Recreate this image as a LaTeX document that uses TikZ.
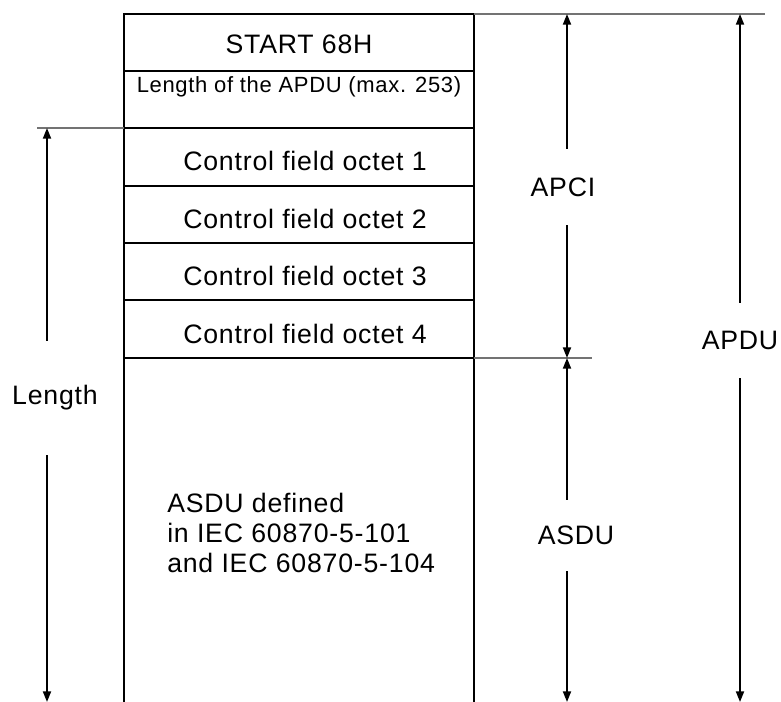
\documentclass[tikz,border=0pt]{standalone}
\usepackage{fontspec}
\setmainfont{Liberation Sans}[LetterSpace=3]
\usetikzlibrary{arrows.meta}

\tikzset{
  frame/.style={line width=1.5pt},
  ext/.style={line width=1pt, black!55},
  dim/.style={line width=1.4pt, -{Triangle[length=8pt,width=6pt]}},
  txt/.style={inner sep=0pt, font=\fontsize{20}{22.5}\selectfont},
  smalltxt/.style={inner sep=0pt, font=\fontsize{16.5}{18}\selectfont},
  dimlabel/.style={txt, minimum width=10pt}
}

\begin{document}
\begin{tikzpicture}[x=0.75pt,y=-0.75pt]
\useasboundingbox (0,0) rectangle (781,702);
% Frame
\draw[frame] (124,702) -- (124,14) -- (474,14) -- (474,702);
\foreach \y in {71,128,186,243,300,358}
  \draw[frame] (124,\y) -- (474,\y);
% Extension lines
\draw[ext] (474,14) -- (765,14);
\draw[ext] (37,128) -- (124,128);
\draw[ext] (474,358) -- (592,358);
% Nodes
\node[txt] (start) at (299,44) {START 68H};
\node[smalltxt] (apdulen) at (299,87) {Length of the APDU (max. 253)};
\node[txt] (octet1) at (305,161) {Control field octet 1};
\node[txt] (octet2) at (305,219) {Control field octet 2};
\node[txt] (octet3) at (305,276) {Control field octet 3};
\node[txt] (octet4) at (305,334) {Control field octet 4};
\node[txt, align=left, anchor=west] (asdutext) at (167,533)
  {ASDU defined\\in IEC 60870-5-101\\and IEC 60870-5-104};
% Labels
\node[dimlabel, minimum height=57pt] (apci) at (563,187) {APCI};
\node[dimlabel, minimum height=53.25pt] (asdu) at (576,535.5) {ASDU};
\node[dimlabel, minimum height=56.25pt] (apdu) at (740,340.5) {APDU};
\node[dimlabel, minimum height=85.5pt] (length) at (55,398) {Length};
% Arrow ends
\coordinate (apciTop) at (567,14);
\coordinate (apciBot) at (567,358);
\coordinate (asduTop) at (567,358);
\coordinate (asduBot) at (567,702);
\coordinate (apduTop) at (740,14);
\coordinate (apduBot) at (740,702);
\coordinate (lenTop) at (47,128);
\coordinate (lenBot) at (47,702);
% Edges
\draw[dim] (apci.north -| apciTop) -- (apciTop);
\draw[dim] (apci.south -| apciBot) -- (apciBot);
\draw[dim] (asdu.north -| asduTop) -- (asduTop);
\draw[dim] (asdu.south -| asduBot) -- (asduBot);
\draw[dim] (apdu.north) -- (apduTop);
\draw[dim] (apdu.south) -- (apduBot);
\draw[dim] (length.north -| lenTop) -- (lenTop);
\draw[dim] (length.south -| lenBot) -- (lenBot);
\end{tikzpicture}
\end{document}
